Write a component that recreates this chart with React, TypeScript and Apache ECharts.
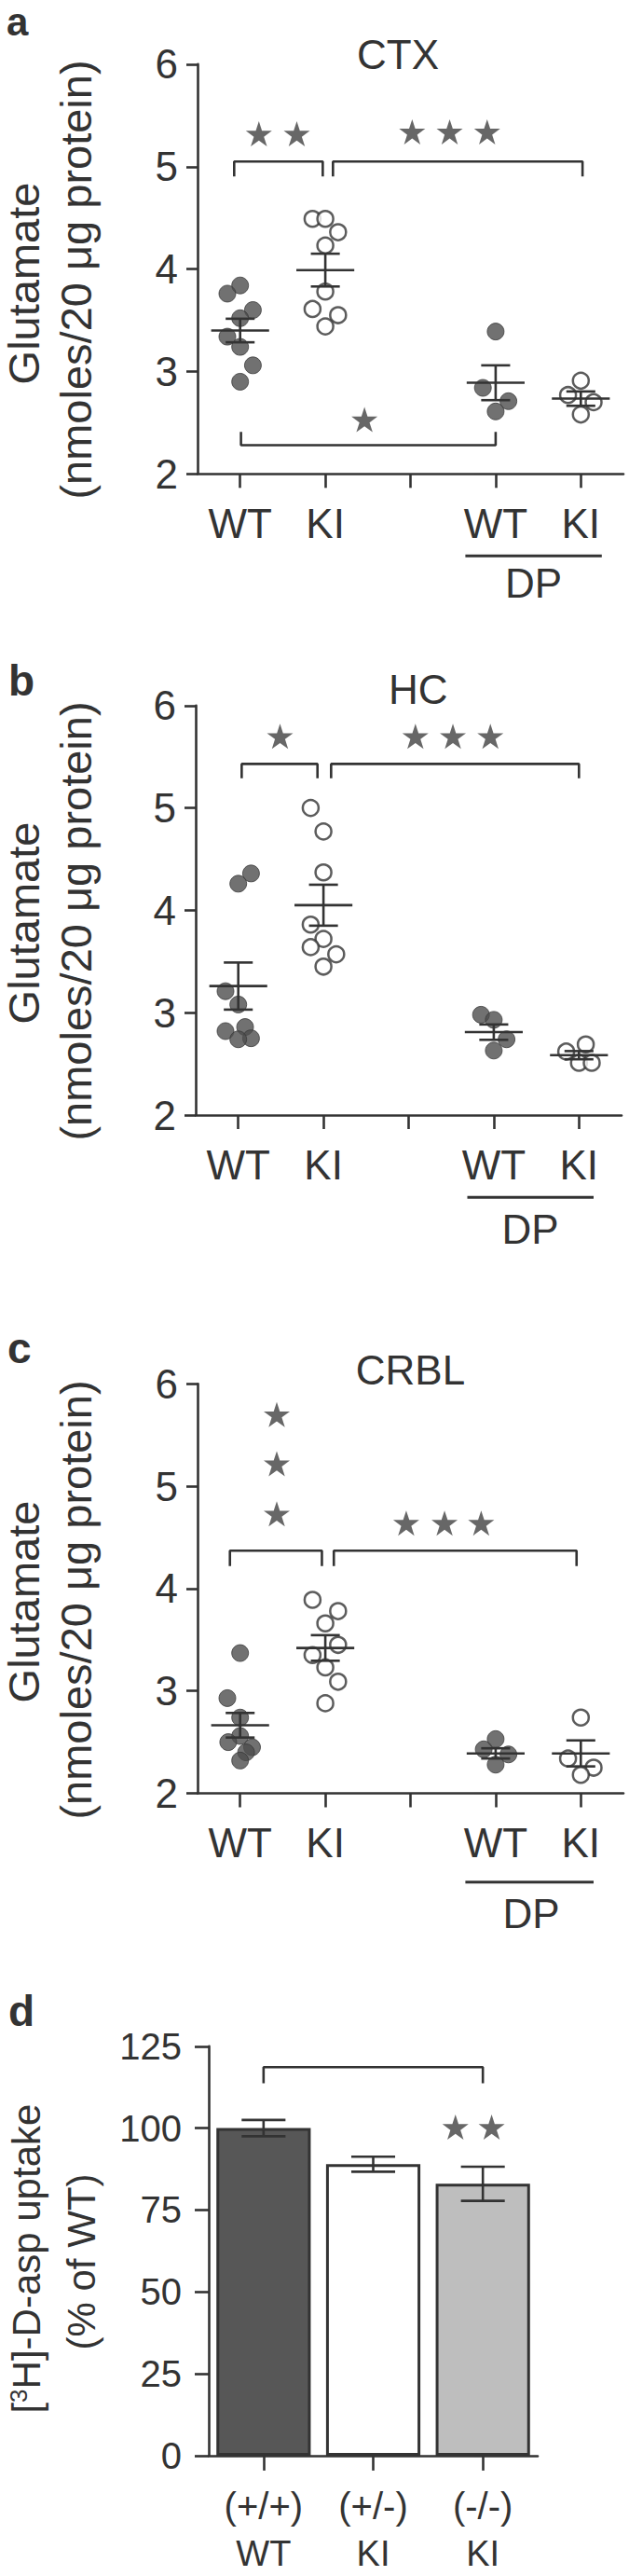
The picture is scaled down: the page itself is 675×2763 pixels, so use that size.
import React, { useEffect, useRef } from "react";
import * as echarts from "echarts";

const FONT = "Liberation Sans, Arial, Helvetica, sans-serif";
const INK = "#333333";

// ---------- scatter panels (a CTX, b HC, c CRBL) ----------
const groupLabels = ["WT", "KI", "", "WT", "KI"];
const groupPos = [0, 1, 3, 4];
const tickPos = [0, 1, 2, 3, 4];

// panel a – CTX
const ctxWT = [3.84, 3.76, 3.6, 3.52, 3.34, 3.24, 3.06, 2.9];
const ctxWTJit = [0, -0.15, 0.15, 0, -0.15, 0, 0.15, 0];
const ctxKI = [4.49, 4.49, 4.36, 4.23, 3.78, 3.61, 3.55, 3.44];
const ctxKIJit = [-0.15, 0, 0.15, 0, 0, -0.15, 0.15, 0];
const ctxDPWT = [3.39, 2.84, 2.71, 2.61];
const ctxDPWTJit = [0, -0.15, 0.15, 0];
const ctxDPKI = [2.91, 2.77, 2.7, 2.58];
const ctxDPKIJit = [0, -0.15, 0.15, 0];
const ctxMean = [3.4, 3.99, 2.89, 2.735];
const ctxSem = [0.115, 0.16, 0.17, 0.07];
// brackets: [x1, x2, y, legEnd]
const ctxBrackets = [
  [-0.07, 0.97, 5.05, 4.905],
  [1.09, 4.02, 5.05, 4.905],
  [0.01, 3.0, 2.28, 2.41],
];
const ctxStars = [
  [0.22, 5.32], [0.665, 5.32],
  [2.02, 5.34], [2.46, 5.34], [2.9, 5.34],
  [1.46, 2.53],
];

// panel b – HC
const hcWT = [4.36, 4.26, 3.21, 3.08, 2.86, 2.82, 2.75, 2.74];
const hcWTJit = [0.15, 0, -0.15, 0, 0.08, -0.15, 0.15, 0];
const hcKI = [5.0, 4.77, 4.37, 3.86, 3.72, 3.64, 3.57, 3.45];
const hcKIJit = [-0.15, 0, 0, -0.15, 0, -0.15, 0.15, 0];
const hcDPWT = [2.98, 2.93, 2.74, 2.63];
const hcDPWTJit = [-0.15, 0, 0.15, 0];
const hcDPKI = [2.69, 2.62, 2.51, 2.51];
const hcDPKIJit = [0.08, -0.15, 0, 0.15];
const hcMean = [3.26, 4.05, 2.81, 2.585];
const hcSem = [0.23, 0.2, 0.075, 0.04];
const hcBrackets = [
  [0.04, 0.93, 5.43, 5.29],
  [1.09, 4.0, 5.43, 5.29],
];
const hcStars = [
  [0.49, 5.7],
  [2.08, 5.7], [2.52, 5.7], [2.96, 5.7],
];

// panel c – CRBL
const crWT = [3.37, 2.93, 2.74, 2.56, 2.5, 2.45, 2.4, 2.32];
const crWTJit = [0, -0.15, 0, 0, -0.14, 0.14, 0.07, 0];
const crKI = [3.89, 3.78, 3.66, 3.45, 3.35, 3.23, 3.09, 2.88];
const crKIJit = [-0.15, 0.15, 0, 0.15, -0.15, 0, 0.15, 0];
const crDPWT = [2.53, 2.43, 2.38, 2.28];
const crDPWTJit = [0, -0.14, 0.15, 0];
const crDPKI = [2.74, 2.34, 2.25, 2.18];
const crDPKIJit = [0, -0.15, 0.15, 0];
const crMean = [2.665, 3.42, 2.39, 2.39];
const crSem = [0.12, 0.125, 0.05, 0.127];
const crBrackets = [
  [-0.12, 0.96, 4.37, 4.22],
  [1.1, 3.95, 4.37, 4.22],
];
const crStars = [
  [0.43, 5.7], [0.43, 5.22], [0.43, 4.73],
  [1.95, 4.64], [2.4, 4.64], [2.83, 4.64],
];

// ---------- bar panel (d) ----------
const uptakeCats = ["(+/+)\nWT", "(+/-)\nKI", "(-/-)\nKI"];
const uptakeVals = [100, 89, 83];
const uptakeSem = [2.5, 2.3, 5.2];
const uptakeColors = ["#575757", "#ffffff", "#bebebe"];
const uptakeBrackets = [[0, 2, 118.6, 113.7]];
const uptakeStars = [[1.75, 100.3], [2.08, 100.3]];

const STAR =
  "path://M12,0.5 L14.7,8.6 L23.4,8.6 L16.4,13.7 L19.1,22 L12,17 L4.9,22 L7.6,13.7 L0.6,8.6 L9.3,8.6 Z";

const lineStyle = { color: INK, width: 2.6 };

function pts(vals: number[], jit: number[], pos: number) {
  return vals.map((v, i) => [pos + jit[i], v]);
}

function errRender(halfMean: number, halfCap: number) {
  return (params: any, api: any) => {
    const x = api.value(0);
    const m = api.value(1);
    const s = api.value(2);
    const c = api.coord([x, m]);
    const hi = api.coord([x, m + s]);
    const lo = api.coord([x, m - s]);
    const w = api.size([halfMean, 0])[0];
    const cw = api.size([halfCap, 0])[0];
    const st = { stroke: INK, lineWidth: 2.6 };
    const children: any[] = [
      { type: "line", shape: { x1: hi[0], y1: hi[1], x2: lo[0], y2: lo[1] }, style: st },
      { type: "line", shape: { x1: hi[0] - cw, y1: hi[1], x2: hi[0] + cw, y2: hi[1] }, style: st },
      { type: "line", shape: { x1: lo[0] - cw, y1: lo[1], x2: lo[0] + cw, y2: lo[1] }, style: st },
    ];
    if (w > 0) {
      children.push({ type: "line", shape: { x1: c[0] - w, y1: c[1], x2: c[0] + w, y2: c[1] }, style: st });
    }
    return { type: "group", children };
  };
}

function bracketSeries(b: number[][], xi: number, yi: number) {
  return b.map((br) => ({
    type: "line",
    xAxisIndex: xi,
    yAxisIndex: yi,
    data: [
      [br[0], br[3]],
      [br[0], br[2]],
      [br[1], br[2]],
      [br[1], br[3]],
    ],
    symbol: "none",
    lineStyle: { color: INK, width: 2.6 },
    silent: true,
    z: 4,
  }));
}

function starSeries(s: number[][], xi: number, yi: number) {
  return {
    type: "scatter",
    xAxisIndex: xi,
    yAxisIndex: yi,
    data: s,
    symbol: STAR,
    symbolSize: [28, 27],
    itemStyle: { color: "#414141" },
    silent: true,
    z: 4,
  };
}

function scatterPanel(
  idx: number,
  groups: { vals: number[]; jit: number[] }[],
  mean: number[],
  sem: number[],
  brackets: number[][],
  stars: number[][]
) {
  const series: any[] = [];
  groups.forEach((g, gi) => {
    const filled = gi === 0 || gi === 2;
    series.push({
      type: "scatter",
      xAxisIndex: idx,
      yAxisIndex: idx,
      data: pts(g.vals, g.jit, groupPos[gi]),
      symbol: "circle",
      symbolSize: filled ? 18 : 17,
      itemStyle: filled
        ? { color: "#4d4d4d", borderColor: "#3a3a3a", borderWidth: 1 }
        : { color: "#ffffff", borderColor: INK, borderWidth: 2.5 },
      z: 2,
    });
  });
  series.push({
    type: "custom",
    xAxisIndex: idx,
    yAxisIndex: idx,
    data: groupPos.map((p, i) => [p, mean[i], sem[i]]),
    encode: { x: 0, y: 1 },
    renderItem: errRender(0.34, 0.17),
    z: 3,
    silent: true,
  });
  series.push(...bracketSeries(brackets, idx, idx));
  series.push(starSeries(stars, idx, idx));
  return series;
}

const scatterGrids = [
  { left: 212, top: 68.9, width: 457, height: 439.4 },
  { left: 210, top: 756.8, width: 457, height: 439.2 },
  { left: 212, top: 1484.3, width: 457, height: 439.2 },
];

function txt(x: number, y: number, text: string, fontSize: number, opts: any = {}) {
  return {
    type: "text",
    x,
    y,
    rotation: opts.rotation || 0,
    silent: true,
    style: {
      text,
      fontSize,
      fontFamily: FONT,
      fontWeight: opts.bold ? "bold" : "normal",
      fill: INK,
      lineHeight: opts.lineHeight,
      align: opts.align || "center",
      textAlign: opts.align || "center",
      verticalAlign: "middle",
      textVerticalAlign: "middle",
      rich: opts.rich,
    },
  };
}

function hline(x1: number, x2: number, y: number) {
  return {
    type: "line",
    silent: true,
    shape: { x1, y1: y, x2, y2: y },
    style: { stroke: INK, lineWidth: 3 },
  };
}

export default function App() {
  const ref = useRef<HTMLDivElement>(null);

  useEffect(() => {
    if (!ref.current) return;
    const chart = echarts.init(ref.current, null, { renderer: "svg" });

    const grids: any[] = scatterGrids.map((g) => ({ ...g, containLabel: false, outerBoundsMode: "none" }));
    grids.push({ left: 224, top: 2194.8, width: 353, height: 439.1, containLabel: false, outerBoundsMode: "none" });

    const xAxes: any[] = [0, 1, 2].map((i) => ({
      gridIndex: i,
      type: "value",
      min: -0.5,
      max: 4.5,
      axisLine: { show: true, onZero: false, lineStyle },
      axisTick: { show: true, customValues: tickPos, length: 15, lineStyle },
      axisLabel: {
        show: true,
        customValues: groupPos,
        formatter: (v: number) => groupLabels[Math.round(v)],
        margin: 31,
        fontSize: 44,
        fontFamily: FONT,
        color: INK,
      },
      splitLine: { show: false },
    }));
    xAxes.push({
      gridIndex: 3,
      type: "category",
      data: uptakeCats,
      axisLine: { show: true, onZero: false, lineStyle },
      axisTick: { show: true, alignWithLabel: true, length: 16, lineStyle },
      axisLabel: {
        margin: 17,
        interval: 0,
        color: INK,
        formatter: (v: string) => {
          const parts = v.split("\n");
          return "{g|" + parts[0] + "}\n{n|" + parts[1] + "}";
        },
        rich: {
          g: { fontSize: 40, lineHeight: 74, fontFamily: FONT, color: INK },
          n: { fontSize: 38, lineHeight: 28, fontFamily: FONT, color: INK },
        },
      },
      splitLine: { show: false },
    });
    xAxes.push({
      gridIndex: 3,
      type: "value",
      min: -0.5,
      max: 2.5,
      show: false,
      axisLine: { onZero: false },
    });

    const yAxes: any[] = [0, 1, 2].map((i) => ({
      gridIndex: i,
      type: "value",
      min: 2,
      max: 6,
      interval: 1,
      axisLine: { show: true, onZero: false, lineStyle },
      axisTick: { show: true, length: 12, lineStyle },
      axisLabel: { margin: 21, fontSize: 44, fontFamily: FONT, color: INK },
      splitLine: { show: false },
    }));
    yAxes.push({
      gridIndex: 3,
      type: "value",
      min: 0,
      max: 125,
      interval: 25,
      axisLine: { show: true, onZero: false, lineStyle },
      axisTick: { show: true, length: 15, lineStyle },
      axisLabel: { margin: 29, fontSize: 40, fontFamily: FONT, color: INK },
      splitLine: { show: false },
    });

    const series: any[] = [
      ...scatterPanel(
        0,
        [
          { vals: ctxWT, jit: ctxWTJit },
          { vals: ctxKI, jit: ctxKIJit },
          { vals: ctxDPWT, jit: ctxDPWTJit },
          { vals: ctxDPKI, jit: ctxDPKIJit },
        ],
        ctxMean,
        ctxSem,
        ctxBrackets,
        ctxStars
      ),
      ...scatterPanel(
        1,
        [
          { vals: hcWT, jit: hcWTJit },
          { vals: hcKI, jit: hcKIJit },
          { vals: hcDPWT, jit: hcDPWTJit },
          { vals: hcDPKI, jit: hcDPKIJit },
        ],
        hcMean,
        hcSem,
        hcBrackets,
        hcStars
      ),
      ...scatterPanel(
        2,
        [
          { vals: crWT, jit: crWTJit },
          { vals: crKI, jit: crKIJit },
          { vals: crDPWT, jit: crDPWTJit },
          { vals: crDPKI, jit: crDPKIJit },
        ],
        crMean,
        crSem,
        crBrackets,
        crStars
      ),
      {
        type: "bar",
        xAxisIndex: 3,
        yAxisIndex: 3,
        barWidth: "86%",
        data: uptakeVals.map((v, i) => ({
          value: v,
          itemStyle: { color: uptakeColors[i], borderColor: INK, borderWidth: 3 },
        })),
        z: 2,
      },
      {
        type: "custom",
        xAxisIndex: 4,
        yAxisIndex: 3,
        data: uptakeVals.map((v, i) => [i, v, uptakeSem[i]]),
        encode: { x: 0, y: 1 },
        renderItem: errRender(0, 0.2),
        z: 3,
        silent: true,
      },
      ...bracketSeries(uptakeBrackets, 4, 3),
      starSeries(uptakeStars, 4, 3),
    ];

    const R = Math.PI / 2;
    const graphic: any[] = [
      // panel letters
      txt(7, 23.5, "a", 42, { bold: true, align: "left" }),
      txt(9, 730, "b", 46, { bold: true, align: "left" }),
      txt(8, 1446, "c", 46, { bold: true, align: "left" }),
      txt(9, 2157, "d", 46, { bold: true, align: "left" }),
      // titles
      txt(427, 58.6, "CTX", 44),
      txt(448.8, 739.6, "HC", 44),
      txt(440.5, 1469, "CRBL", 44),
      // y titles a/b/c
      txt(25, 304, "Glutamate", 47, { rotation: R }),
      txt(81.5, 300, "(nmoles/20 \u03bcg protein)", 47, { rotation: R }),
      txt(25, 990, "Glutamate", 47, { rotation: R }),
      txt(81.5, 988, "(nmoles/20 \u03bcg protein)", 47, { rotation: R }),
      txt(25, 1718, "Glutamate", 47, { rotation: R }),
      txt(81.5, 1716, "(nmoles/20 \u03bcg protein)", 47, { rotation: R }),
      // y title d
      txt(28.3, 2422.6, "[{sup|3}H]-D-asp uptake", 42, {
        rotation: R,
        rich: { sup: { fontSize: 26, fontFamily: FONT, fill: INK, verticalAlign: "top", padding: [0, 0, 14, 0] } },
      }),
      txt(87, 2426, "(% of WT)", 42, { rotation: R }),
      // DP annotations
      hline(499.4, 645.8, 596.2),
      txt(572.6, 625.3, "DP", 44),
      hline(501.5, 637, 1284.2),
      txt(569, 1318.6, "DP", 44),
      hline(499.4, 637, 2018.8),
      txt(570, 2052.7, "DP", 44),
    ];

    chart.setOption({
      animation: false,
      backgroundColor: "#ffffff",
      textStyle: { fontFamily: FONT },
      grid: grids,
      xAxis: xAxes,
      yAxis: yAxes,
      series,
      graphic,
    });

    return () => chart.dispose();
  }, []);

  return (
    <div
      ref={ref}
      style={{ position: "absolute", left: 0, top: 0, width: 675, height: 2763, background: "#fff" }}
    />
  );
}
